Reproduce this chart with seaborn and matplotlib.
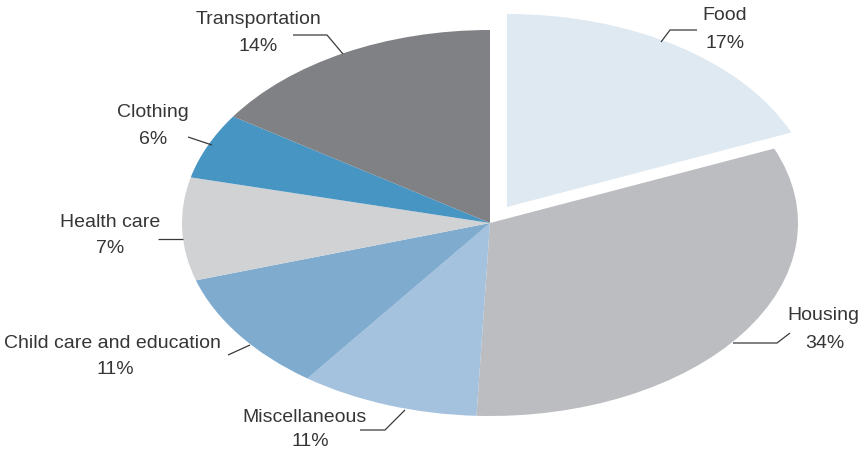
import matplotlib
matplotlib.use("Agg")
import matplotlib.pyplot as plt
import seaborn as sns

# ------------------------------
# Data
# ------------------------------
categories = ["Food", "Housing", "Miscellaneous", "Child care and education",
              "Health care", "Clothing", "Transportation"]
# printed percentages (labels)
shares = [17, 34, 11, 11, 7, 6, 14]
# slice sizes as drawn in the picture (measured from wedge angles)
slice_sizes = [18.7, 32.0, 9.4, 10.1, 8.6, 5.5, 15.7]
slice_colors = ["#dfe9f2", "#bcbdc1", "#a4c1de", "#7fabcf",
                "#d1d2d4", "#4795c3", "#808185"]

sns.set_theme(style="white")
plt.rcParams["font.family"] = ["Liberation Sans", "DejaVu Sans"]

W, H = 865, 454
CX, CY = 490, 223      # pie centre in pixels
RX, RY = 308, 193      # horizontal / vertical radius in pixels


def px(x, y):
    # pixel (from top-left) -> data coords of the unit pie
    return (x - CX) / RX, (CY - y) / RY


fig = plt.figure(figsize=(W / 100, H / 100), dpi=100)
ax = fig.add_axes([0, 0, 1, 1])

palette = sns.color_palette(slice_colors)
explode = [0.10] + [0] * (len(slice_sizes) - 1)
ax.pie(slice_sizes, colors=palette, startangle=90, counterclock=False,
       explode=explode, radius=1.0, wedgeprops=dict(linewidth=0))

ax.set_aspect("auto")
ax.set_xlim(-CX / RX, (W - CX) / RX)
ax.set_ylim(-(H - CY) / RY, CY / RY)
ax.axis("off")

# ------------------------------
# Labels and leader lines
# ------------------------------
label_layout = {
    "Food": ((725, 15), (725, 43), [(697, 30), (670, 30), (661, 42)]),
    "Housing": ((823, 316), (825, 343), [(790, 333), (777, 343), (733, 343)]),
    "Miscellaneous": ((305, 417), (310, 442), [(360, 430), (385, 430), (405, 410)]),
    "Child care and education": ((112, 343), (115, 369), [(228, 355), (250, 345)]),
    "Health care": ((110, 222), (110, 248), [(158, 239), (183, 239)]),
    "Clothing": ((153, 112), (153, 139), [(188, 137), (212, 145)]),
    "Transportation": ((258, 19), (258, 46), [(293, 35), (327, 35), (343, 54)]),
}

text_color = "#363636"
for name, share in zip(categories, shares):
    name_pos, pct_pos, line_pts = label_layout[name]
    ax.text(*px(*name_pos), name, ha="center", va="center",
            fontsize=14, color=text_color)
    ax.text(*px(*pct_pos), f"{share}%", ha="center", va="center",
            fontsize=14, color=text_color)
    xs, ys = zip(*[px(x, y) for x, y in line_pts])
    ax.plot(xs, ys, color="#3a3a3a", linewidth=0.9, solid_capstyle="butt")

fig.savefig("out.png", dpi=100)
